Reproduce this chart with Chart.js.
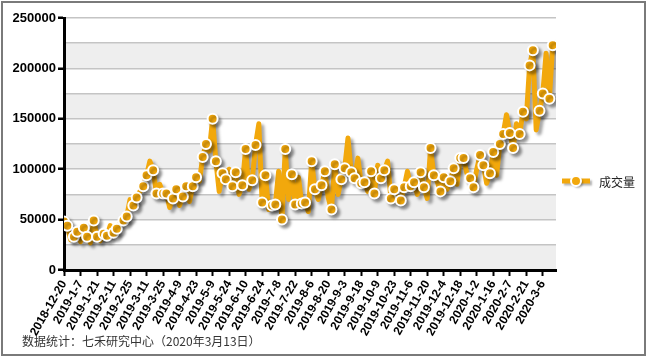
<!DOCTYPE html>
<html>
<head>
<meta charset="utf-8">
<script src="https://cdn.jsdelivr.net/npm/chart.js@4"></script>
<style>
  body { margin: 0; background: #fff; }
  #wrap { position: relative; width: 648px; height: 359px; }
  #note { position: absolute; left: 22px; top: 333px; font: 12px "Noto Sans CJK SC", sans-serif; color: #333; line-height: 16px; }
</style>
</head>
<body>
<div id="wrap">
  <canvas id="myChart" width="648" height="359"></canvas>
  <div id="note">数据统计：七禾研究中心（2020年3月13日）</div>
</div>
<script>
// tick labels, one every 5 points
const tickLabels = ['2018-12-20','2019-1-7','2019-1-21','2019-2-11','2019-2-25','2019-3-11','2019-3-25','2019-4-9','2019-4-23','2019-5-9',
    '2019-5-24','2019-6-10','2019-6-24','2019-7-8','2019-7-22','2019-8-6','2019-8-20','2019-9-3','2019-9-18','2019-10-9',
    '2019-10-23','2019-11-6','2019-11-20','2019-12-4','2019-12-18','2020-1-2','2020-1-16','2020-2-7','2020-2-21','2020-3-6']

const seriesName = '成交量'

// 成交量
const volumes = [
    48000, 44000, 30000, 33000, 38000, 28000, 42000, 33000, 27000, 49000,
    33000, 29000, 36000, 34000, 44000, 37000, 41000, 46000, 49000, 53000,
    70000, 64000, 72000, 78000, 83000, 94000, 108000, 99000, 76000, 85000,
    76000, 76000, 62000, 71000, 80000, 64000, 73000, 83000, 68000, 83000,
    92000, 88000, 112000, 125000, 118000, 150000, 108000, 78000, 96000, 90000,
    100000, 83000, 97000, 75000, 84000, 120000, 80000, 89000, 124000, 145000,
    67000, 94000, 60000, 64000, 65000, 98000, 50000, 120000, 70000, 95000,
    65000, 92000, 66000, 67000, 58000, 108000, 80000, 70000, 84000, 98000,
    72000, 60000, 105000, 75000, 90000, 101000, 131000, 97000, 91000, 111000,
    86000, 87000, 78000, 98000, 76000, 104000, 91000, 99000, 108000, 71000,
    80000, 68000, 69000, 82000, 98000, 83000, 87000, 75000, 97000, 82000,
    71000, 121000, 94000, 88000, 78000, 92000, 80000, 88000, 101000, 85000,
    111000, 111000, 96000, 91000, 82000, 100000, 114000, 104000, 86000, 96000,
    117000, 94000, 125000, 135000, 154000, 136000, 121000, 145000, 135000, 157000,
    150000, 203000, 218000, 139000, 158000, 175000, 215000, 170000, 223000
]

const orange = '#F2A80C'

const bandsPlugin = {
    id: 'bands',
    beforeDraw(chart) {
        const { ctx, chartArea: a, scales: { y } } = chart
        ctx.save()
        ctx.fillStyle = '#eeeeee'
        for (let v = 0; v < 250000; v += 50000) {
            const top = y.getPixelForValue(v + 25000)
            const bottom = y.getPixelForValue(v)
            ctx.fillRect(a.left, top, a.right - a.left, bottom - top)
        }
        ctx.restore()
    },
    beforeDatasetDraw(chart) {
        const ctx = chart.ctx
        ctx.save()
        ctx.shadowColor = 'rgba(0,0,0,0.35)'
        ctx.shadowOffsetX = 3
        ctx.shadowOffsetY = 3
        ctx.shadowBlur = 3
    },
    afterDatasetDraw(chart) {
        chart.ctx.restore()
    },
    afterDraw(chart) {
        const ctx = chart.ctx
        ctx.save()
        // outer frame
        ctx.strokeStyle = '#7a7a7a'
        ctx.lineWidth = 2
        ctx.strokeRect(2, 2, 643, 353)
        // legend
        ctx.shadowColor = 'rgba(0,0,0,0.3)'
        ctx.shadowOffsetX = 2
        ctx.shadowOffsetY = 2
        ctx.shadowBlur = 2
        ctx.strokeStyle = orange
        ctx.lineWidth = 5
        ctx.beginPath()
        ctx.moveTo(562, 181)
        ctx.lineTo(590, 181)
        ctx.stroke()
        ctx.beginPath()
        ctx.arc(576, 181, 5, 0, Math.PI * 2)
        ctx.fillStyle = orange
        ctx.fill()
        ctx.shadowColor = 'transparent'
        ctx.lineWidth = 2
        ctx.strokeStyle = '#fff'
        ctx.stroke()
        ctx.fillStyle = '#222'
        ctx.font = '12px "Noto Sans CJK SC", sans-serif'
        ctx.textBaseline = 'middle'
        ctx.fillText(seriesName, 599, 182)
        ctx.restore()
    }
}

const config = {
    type: 'line',
    data: {
        datasets: [{
            label: seriesName,
            data: volumes.map((v, i) => ({ x: i, y: v })),
            borderColor: orange,
            borderWidth: 5,
            borderJoinStyle: 'round',
            borderCapStyle: 'round',
            tension: 0,
            pointRadius: (c) => c.dataIndex % 3 === 2 ? 0 : 5,
            pointHoverRadius: 5,
            pointBackgroundColor: orange,
            pointBorderColor: '#fff',
            pointBorderWidth: 2,
        }]
    },
    options: {
        responsive: false,
        animation: false,
        layout: { padding: { left: 0, top: 18, right: 92, bottom: 0 } },
        plugins: {
            legend: { display: false },
            tooltip: { enabled: false },
        },
        scales: {
            x: {
                type: 'linear',
                min: 0,
                max: 149,
                afterFit(scale) { scale.height = 89 },
                afterBuildTicks(scale) {
                    scale.ticks = tickLabels.map((_, i) => ({ value: i * 5 }))
                },
                border: { color: '#000', width: 3 },
                grid: { drawOnChartArea: false, tickLength: 6, tickColor: '#000', tickWidth: 2 },
                ticks: {
                    autoSkip: false,
                    maxRotation: 60,
                    minRotation: 60,
                    padding: 2,
                    color: '#000',
                    font: { family: '"Liberation Sans", Arial', size: 12, weight: 'bold' },
                    callback: (v) => tickLabels[v / 5] || '',
                },
            },
            y: {
                min: 0,
                max: 250000,
                afterFit(scale) { scale.width = 64 },
                border: { color: '#000', width: 3 },
                grid: {
                    color: '#c4c4c4',
                    lineWidth: 1.5,
                    tickLength: 6,
                    tickWidth: 2.5,
                    tickColor: (c) => c.tick && c.tick.value % 50000 === 0 ? '#000' : 'rgba(0,0,0,0)',
                },
                ticks: {
                    stepSize: 25000,
                    padding: 2,
                    color: '#000',
                    font: { family: '"Liberation Sans", Arial', size: 13, weight: 'bold' },
                    callback: (v) => v % 50000 === 0 ? String(v) : '',
                },
            },
        },
    },
    plugins: [bandsPlugin],
}

new Chart(document.getElementById('myChart').getContext('2d'), config)
</script>
</body>
</html>
